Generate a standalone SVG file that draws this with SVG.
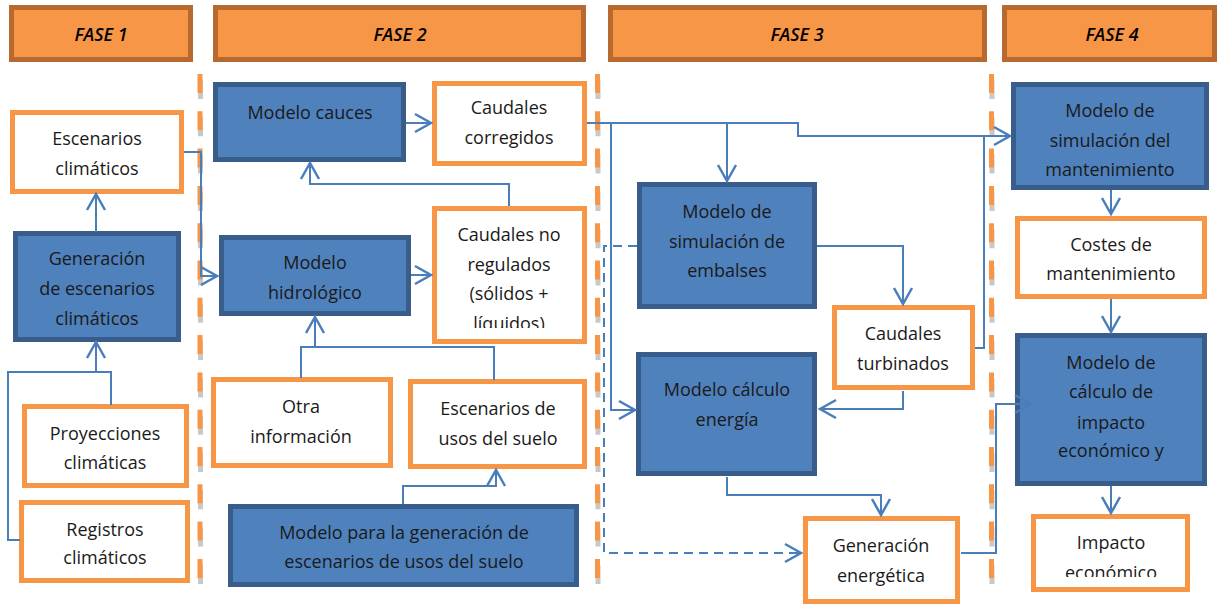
<svg xmlns="http://www.w3.org/2000/svg" width="1222" height="605" viewBox="0 0 1222 605">
<style>
.hdr{fill:#F79646;stroke:#B7692F;stroke-width:5}
.ht{font-family:"Open Sans",sans-serif;font-size:18px;font-style:italic;font-weight:600;fill:#000;text-anchor:middle}
.bl{fill:#4F81BD;stroke:#385D8A;stroke-width:5}
.or{fill:#fff;stroke:#F79646;stroke-width:5}
.t{font-family:"Open Sans",sans-serif;font-size:18px;fill:#1a1a1a;text-anchor:middle}
.c{fill:none;stroke:#4A7EBB;stroke-width:2}
.ca{fill:none;stroke:#4A7EBB;stroke-width:2;marker-end:url(#ah)}
.cd{fill:none;stroke:#4A7EBB;stroke-width:2;stroke-dasharray:9 6}
.sepO{stroke:#F79646;stroke-width:5;stroke-dasharray:19 18.3}
.sepG{stroke:#C8C8C8;stroke-width:5;stroke-dasharray:19 18.3}
</style>
<defs>
<marker id="ah" markerUnits="userSpaceOnUse" viewBox="0 0 18 20" refX="17" refY="10" markerWidth="18" markerHeight="20" orient="auto" overflow="visible">
<path d="M1,1 L17,10 L1,19" fill="none" stroke="#4A7EBB" stroke-width="2.5"/>
</marker>
<clipPath id="clipNR"><rect x="437" y="211" width="145" height="117"/></clipPath>
<clipPath id="clipIE"><rect x="1036" y="519" width="149" height="58"/></clipPath>
</defs>

<g id="separators">
<line class="sepG" x1="200.5" y1="80" x2="200.5" y2="590"/>
<line class="sepO" x1="200" y1="74" x2="200" y2="580"/>
<line class="sepG" x1="598" y1="80" x2="598" y2="590"/>
<line class="sepO" x1="597.5" y1="74" x2="597.5" y2="580"/>
<line class="sepG" x1="992" y1="80" x2="992" y2="590"/>
<line class="sepO" x1="991.5" y1="74" x2="991.5" y2="580"/>
</g>

<g id="headers">
<g id="fase1"><rect class="hdr" x="11.5" y="7.5" width="179" height="52"/><text class="ht" x="101" y="41">FASE 1</text></g>
<g id="fase2"><rect class="hdr" x="215.5" y="7.5" width="368" height="52"/><text class="ht" x="400" y="41">FASE 2</text></g>
<g id="fase3"><rect class="hdr" x="610.5" y="7.5" width="374" height="52"/><text class="ht" x="797" y="41">FASE 3</text></g>
<g id="fase4"><rect class="hdr" x="1004.5" y="7.5" width="210" height="52"/><text class="ht" x="1112" y="41">FASE 4</text></g>
</g>

<g id="escenarios-climaticos"><rect class="or" x="12.5" y="112.5" width="169" height="79"/><text class="t" x="97" y="145">Escenarios</text><text class="t" x="97" y="175">climáticos</text></g>
<g id="generacion-escenarios"><rect class="bl" x="15.5" y="233.5" width="163" height="106"/><text class="t" x="97" y="265">Generación</text><text class="t" x="97" y="295">de escenarios</text><text class="t" x="97" y="325">climáticos</text></g>
<g id="proyecciones"><rect class="or" x="24.5" y="406.5" width="162" height="79"/><text class="t" x="105" y="440">Proyecciones</text><text class="t" x="105" y="469">climáticas</text></g>
<g id="registros"><rect class="or" x="21.5" y="502.5" width="166" height="78"/><text class="t" x="105" y="536">Registros</text><text class="t" x="105" y="564">climáticos</text></g>

<g id="modelo-cauces"><rect class="bl" x="215.5" y="84.5" width="188" height="75"/><text class="t" x="310" y="119">Modelo cauces</text></g>
<g id="caudales-corregidos"><rect class="or" x="434.5" y="83.5" width="150" height="80"/><text class="t" x="509" y="114">Caudales</text><text class="t" x="509" y="144">corregidos</text></g>
<g id="modelo-hidrologico"><rect class="bl" x="221.5" y="237.5" width="187" height="76"/><text class="t" x="315" y="269">Modelo</text><text class="t" x="315" y="299">hidrológico</text></g>
<g id="caudales-no-regulados"><rect class="or" x="434.5" y="208.5" width="150" height="133"/><g clip-path="url(#clipNR)"><text class="t" x="509" y="241">Caudales no</text><text class="t" x="509" y="271">regulados</text><text class="t" x="509" y="300">(sólidos +</text><text class="t" x="509" y="330">líquidos)</text></g></g>
<g id="otra-informacion"><rect class="or" x="213.5" y="379.5" width="177" height="86"/><text class="t" x="301" y="413">Otra</text><text class="t" x="301" y="443">información</text></g>
<g id="escenarios-usos"><rect class="or" x="410.5" y="381.5" width="174" height="85"/><text class="t" x="498" y="415">Escenarios de</text><text class="t" x="498" y="445">usos del suelo</text></g>
<g id="modelo-generacion-usos"><rect class="bl" x="230.5" y="506.5" width="346" height="78"/><text class="t" x="404" y="539">Modelo para la generación de</text><text class="t" x="404" y="568">escenarios de usos del suelo</text></g>

<g id="modelo-embalses"><rect class="bl" x="639.5" y="184.5" width="175" height="122"/><text class="t" x="727" y="218">Modelo de</text><text class="t" x="727" y="248">simulación de</text><text class="t" x="727" y="277">embalses</text></g>
<g id="caudales-turbinados"><rect class="or" x="834.5" y="307.5" width="138" height="80"/><text class="t" x="903" y="340">Caudales</text><text class="t" x="903" y="370">turbinados</text></g>
<g id="modelo-energia"><rect class="bl" x="638.5" y="354.5" width="176" height="119"/><text class="t" x="727" y="396">Modelo cálculo</text><text class="t" x="727" y="426">energía</text></g>
<g id="generacion-energetica"><rect class="or" x="805.5" y="518.5" width="152" height="83"/><text class="t" x="881" y="552">Generación</text><text class="t" x="881" y="582">energética</text></g>

<g id="modelo-mantenimiento"><rect class="bl" x="1013.5" y="84.5" width="193" height="103"/><text class="t" x="1110" y="117">Modelo de</text><text class="t" x="1110" y="147">simulación del</text><text class="t" x="1110" y="176">mantenimiento</text></g>
<g id="costes-mantenimiento"><rect class="or" x="1017.5" y="218.5" width="187" height="78"/><text class="t" x="1111" y="251">Costes de</text><text class="t" x="1111" y="280">mantenimiento</text></g>
<g id="modelo-impacto"><rect class="bl" x="1017.5" y="335.5" width="187" height="148"/><text class="t" x="1111" y="369">Modelo de</text><text class="t" x="1111" y="398">cálculo de</text><text class="t" x="1111" y="429">impacto</text><text class="t" x="1111" y="457">económico y</text></g>
<g id="impacto-economico"><rect class="or" x="1033.5" y="516.5" width="154" height="73"/><g clip-path="url(#clipIE)"><text class="t" x="1111" y="549">Impacto</text><text class="t" x="1111" y="579">económico</text></g></g>

<g id="connectors">
<path class="ca" d="M96,232 V194"/>
<path class="c" d="M111,405 V372 H8 V540 H20"/>
<path class="ca" d="M96,372 V342"/>
<path class="ca" d="M184,152 H201 V276 H217"/>
<path class="ca" d="M406,123 H431"/>
<path class="ca" d="M509,206 V184 H310 V163"/>
<path class="ca" d="M411,275 H431"/>
<path class="c" d="M301,378 V347 H494 V380"/>
<path class="ca" d="M315,347 V317"/>
<path class="ca" d="M403,504 V486 H496 V470"/>
<path class="ca" d="M587,123 H798 V136 H1010"/>
<path class="ca" d="M611,123 V410 H635"/>
<path class="ca" d="M727,123 V181"/>
<path class="c" d="M975,348 H984 V136"/>
<path class="cd" d="M637,246 H604 V553 H800"/>
<path class="c" d="M790,553 H801" marker-end="url(#ah)"/>
<path class="ca" d="M817,246 H903 V304"/>
<path class="ca" d="M903,391 V409 H820"/>
<path class="ca" d="M727,477 V495 H881 V515"/>
<path class="ca" d="M961,553 H996 V404 H1031"/>
<path class="ca" d="M1111,190 V214"/>
<path class="ca" d="M1111,299 V332"/>
<path class="ca" d="M1111,486 V513"/>
</g>
</svg>
